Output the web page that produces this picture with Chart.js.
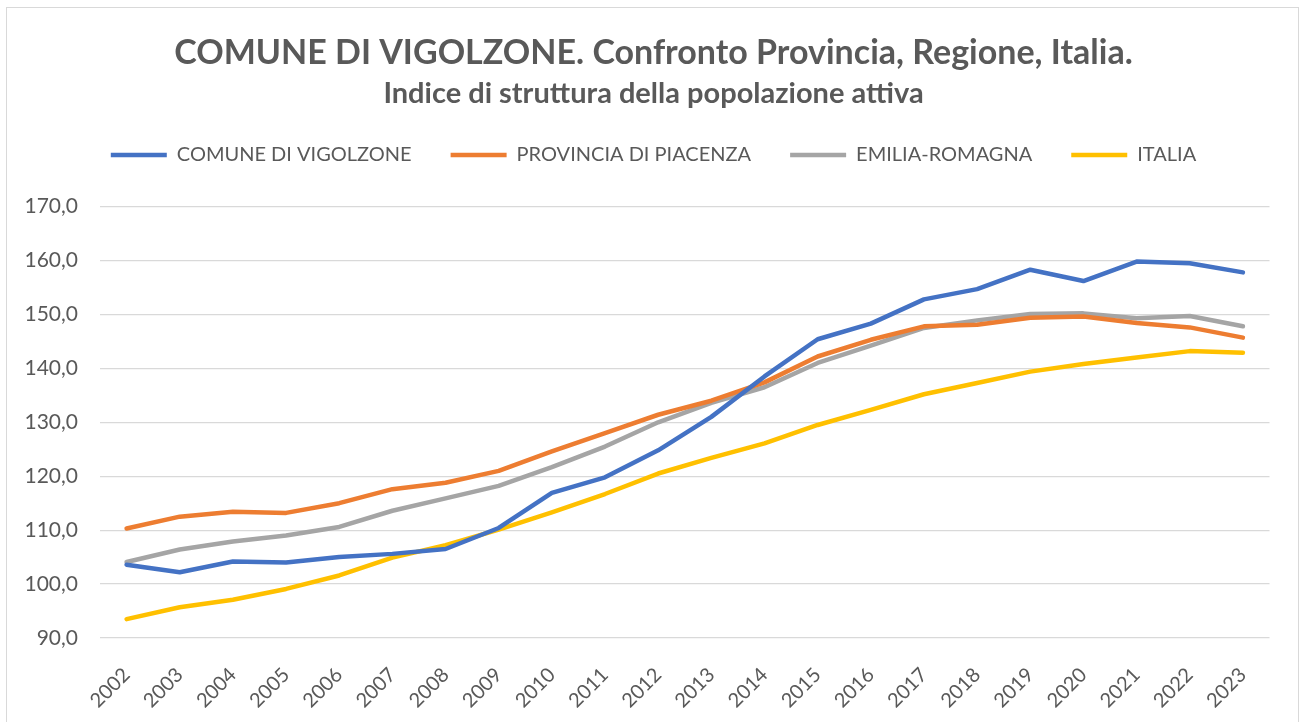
<!DOCTYPE html>
<html>
<head>
<meta charset="utf-8">
<script src="https://cdn.jsdelivr.net/npm/chart.js@4.4.1/dist/chart.umd.min.js"></script>
<style>
  body { margin: 0; background: #fff; }
  #box { position: relative; width: 1301px; height: 722px; }
  #frame { position: absolute; left: 6px; top: 7px; width: 1291px; height: 720px; border: 1px solid #d9d9d9; pointer-events: none; }
</style>
</head>
<body>
<div id="box">
  <canvas id="grafikVigolzone" width="1301" height="722"></canvas>
  <div id="frame"></div>
</div>
<script>
// Indice di struttura della popolazione attiva 2002-2023
const anni = ['2002', '2003', '2004', '2005', '2006', '2007', '2008', '2009', '2010', '2011', '2012',
  '2013', '2014', '2015', '2016', '2017', '2018', '2019', '2020', '2021', '2022', '2023'];

const vigolzone = [103.6, 102.2, 104.2, 104.0, 105.0, 105.6, 106.5, 110.4, 116.9, 119.8, 124.8,
  131.0, 138.5, 145.4, 148.3, 152.8, 154.7, 158.3, 156.2, 159.8, 159.5, 157.8];
const piacenza = [110.3, 112.5, 113.4, 113.2, 115.0, 117.6, 118.8, 121.0, 124.6, 128.0, 131.4,
  134.0, 137.4, 142.2, 145.3, 147.8, 148.1, 149.4, 149.6, 148.4, 147.6, 145.7];
const emiliaRomagna = [104.1, 106.4, 107.9, 109.0, 110.6, 113.6, 115.9, 118.2, 121.7, 125.5, 130.0,
  133.6, 136.5, 141.0, 144.2, 147.5, 148.9, 150.1, 150.2, 149.3, 149.7, 147.8];
const italia = [93.5, 95.7, 97.1, 99.1, 101.6, 104.9, 107.2, 110.1, 113.3, 116.7, 120.5,
  123.4, 126.1, 129.5, 132.3, 135.2, 137.3, 139.4, 140.8, 142.0, 143.2, 142.9];

const asseMin = 90;
const asseMax = 170;
const asseStep = 10;

const testo = '#595959';

function serie(label, data, colore) {
  return {
    label: label,
    data: data,
    borderColor: colore,
    backgroundColor: colore,
    borderWidth: 4.5,
    pointRadius: 0,
    pointHoverRadius: 0,
    borderCapStyle: 'round',
    borderJoinStyle: 'round',
    tension: 0,
    fill: false
  };
}

// spazio sotto la legenda
const spazioLegenda = {
  id: 'spazioLegenda',
  beforeInit(chart) {
    const fitOrig = chart.legend.fit;
    chart.legend.fit = function fit() {
      fitOrig.bind(chart.legend)();
      this.height += 31.6;
    };
  }
};

const ctxVigolzone = document.getElementById('grafikVigolzone');
let grafikVigolzone = new Chart(ctxVigolzone, {
  type: 'line',
  data: {
    labels: anni,
    datasets: [
      serie('COMUNE DI VIGOLZONE', vigolzone, '#4472C4'),
      serie('PROVINCIA DI PIACENZA', piacenza, '#ED7D31'),
      serie('EMILIA-ROMAGNA', emiliaRomagna, '#A5A5A5'),
      serie('ITALIA', italia, '#FFC000')
    ]
  },
  plugins: [spazioLegenda],
  options: {
    responsive: false,
    animation: false,
    layout: { padding: { left: 6, right: 0, top: 0, bottom: 0 } },
    plugins: {
      title: {
        display: true,
        text: 'COMUNE DI VIGOLZONE. Confronto Provincia, Regione, Italia.',
        color: testo,
        font: { family: 'Lato', size: 34, weight: 'bold', lineHeight: 1.2 },
        padding: { top: 32.9, bottom: 0 }
      },
      subtitle: {
        display: true,
        text: 'Indice di struttura della popolazione attiva',
        color: testo,
        font: { family: 'Lato', size: 29, weight: 'bold', lineHeight: 0.5 },
        padding: { top: 12.35, bottom: 5.45 }
      },
      legend: {
        display: true,
        position: 'top',
        labels: {
          color: testo,
          font: { family: 'Lato', size: 20 },
          usePointStyle: true,
          pointStyle: 'line',
          pointStyleWidth: 56,
          padding: 39
        }
      },
      tooltip: { enabled: false }
    },
    scales: {
      x: {
        offset: true,
        grid: { display: false },
        border: { display: false },
        ticks: {
          color: testo,
          font: { family: 'Lato', size: 20 },
          minRotation: 45,
          maxRotation: 45,
          padding: 17,
          autoSkip: false
        },
        afterFit: function (scale) {
          scale.height = 84;
          scale.paddingRight = 31.5;
        }
      },
      y: {
        min: asseMin,
        max: asseMax,
        grid: { color: '#D9D9D9', lineWidth: 1.3, drawTicks: false },
        border: { display: false },
        ticks: {
          stepSize: asseStep,
          color: testo,
          font: { family: 'Lato', size: 21 },
          padding: 22,
          callback: function (v) { return v.toFixed(1).replace('.', ','); }
        },
        afterFit: function (scale) {
          scale.width = 94;
        }
      }
    }
  }
});
</script>
</body>
</html>
